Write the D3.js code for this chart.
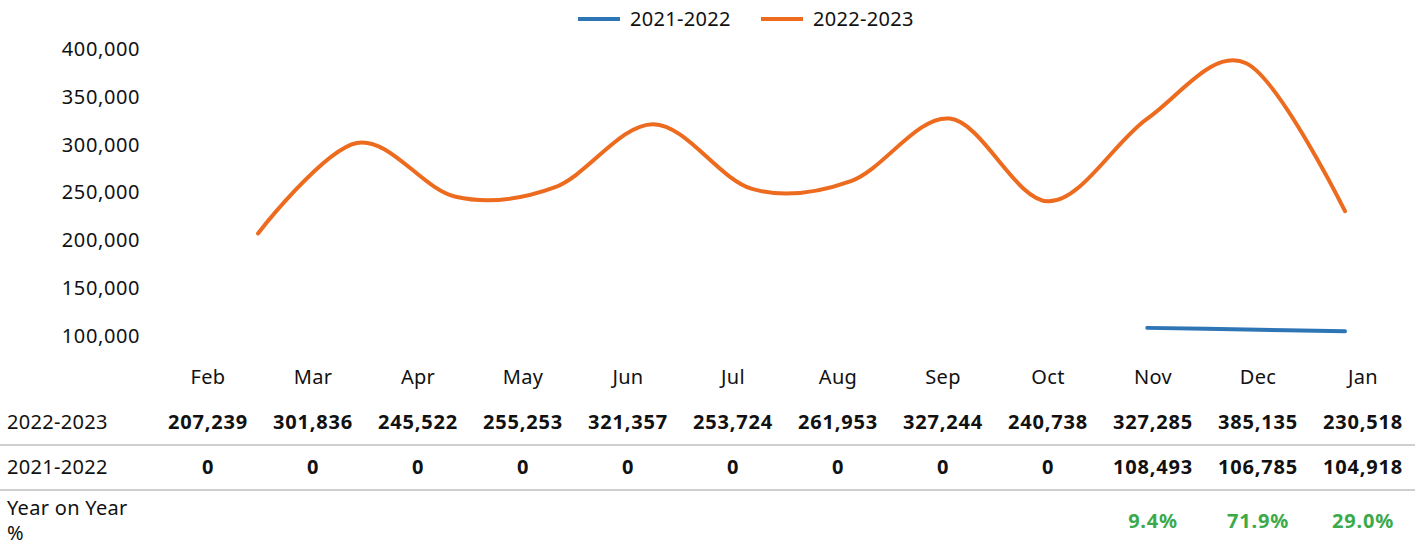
<!DOCTYPE html>
<html>
<head>
<meta charset="utf-8">
<script src="https://cdn.jsdelivr.net/npm/d3@7"></script>
<style>
  body { margin: 0; background: #fff; }
  svg text { font-family: "Noto Sans", "DejaVu Sans", sans-serif; fill: #111; }
  .axis path, .axis line { display: none; }
  .axis text { font-size: 20px; letter-spacing: 0.6px; }
  .val { font-weight: bold; font-size: 20px; letter-spacing: 0.8px; }
  .lbl { font-size: 20px; letter-spacing: 0.3px; }
  .sep { stroke: #cfcfcf; stroke-width: 2; }
</style>
</head>
<body>
<div id="chart"></div>
<script>
// months shown in the table and on the chart
var months = ["Feb","Mar","Apr","May","Jun","Jul","Aug","Sep","Oct","Nov","Dec","Jan"];
var series2223 = [207239, 301836, 245522, 255253, 321357, 253724, 261953, 327244, 240738, 327285, 385135, 230518];
var series2122 = [0, 0, 0, 0, 0, 0, 0, 0, 0, 108493, 106785, 104918];
var yoy = [null, null, null, null, null, null, null, null, null, 9.4, 71.9, 29.0];
var yTicks = [100000, 150000, 200000, 250000, 300000, 350000, 400000];

var w = 1422, h = 546;
var blue = "#2E75B6", orange = "#ED6B1F", green = "#3BAA4A";

var svg = d3.select("#chart").append("svg")
  .attr("width", w)
  .attr("height", h);

// line chart scales
var xLine = d3.scalePoint()
  .domain(months)
  .range([258, 1345]);

var yScale = d3.scaleLinear()
  .domain([100000, 400000])
  .range([336, 49]);

// table columns
var xCol = d3.scaleBand()
  .domain(months)
  .range([155.5, 1415.5]);

function colX(i) { return xCol(months[i]) + xCol.bandwidth() / 2; }

// y axis (labels only)
var yAxis = d3.axisLeft(yScale)
  .tickValues(yTicks)
  .tickSize(0)
  .tickPadding(0)
  .tickFormat(d3.format(","));

svg.append("g")
  .attr("class", "axis")
  .attr("transform", "translate(140,0)")
  .call(yAxis);

var line = d3.line()
  .defined(function(d) { return d.v > 0; })
  .x(function(d) { return xLine(d.m); })
  .y(function(d) { return yScale(d.v); })
  .curve(d3.curveCatmullRom.alpha(0));

function pairs(vals) {
  return months.map(function(m, i) { return { m: m, v: vals[i] }; });
}

svg.append("path")
  .datum(pairs(series2223))
  .attr("fill", "none")
  .attr("stroke", orange)
  .attr("stroke-width", 4)
  .attr("stroke-linecap", "round")
  .attr("d", line);

svg.append("path")
  .datum(pairs(series2122))
  .attr("fill", "none")
  .attr("stroke", blue)
  .attr("stroke-width", 4)
  .attr("stroke-linecap", "round")
  .attr("d", line);

// legend
var legend = [
  { name: "2021-2022", color: blue, x: 578 },
  { name: "2022-2023", color: orange, x: 761 }
];
var lg = svg.append("g").selectAll("g").data(legend).enter().append("g")
  .attr("transform", function(d) { return "translate(" + d.x + ",19)"; });
lg.append("line")
  .attr("x1", 0).attr("x2", 42)
  .attr("stroke", function(d) { return d.color; })
  .attr("stroke-width", 4);
lg.append("text")
  .attr("class", "lbl")
  .attr("x", 52)
  .attr("dy", "0.35em")
  .text(function(d) { return d.name; });

// category row
svg.append("g").selectAll("text").data(months).enter().append("text")
  .attr("class", "lbl")
  .attr("x", function(d, i) { return colX(i); })
  .attr("y", 377)
  .attr("dy", "0.35em")
  .attr("text-anchor", "middle")
  .text(function(d) { return d; });

// table rows
var fmt = d3.format(",");
var rows = [
  { name: "2022-2023", vals: series2223, y: 422 },
  { name: "2021-2022", vals: series2122, y: 467 }
];
rows.forEach(function(r) {
  svg.append("text")
    .attr("class", "lbl")
    .attr("x", 7)
    .attr("y", r.y)
    .attr("dy", "0.35em")
    .text(r.name);
  svg.append("g").selectAll("text").data(r.vals).enter().append("text")
    .attr("class", "val")
    .attr("x", function(d, i) { return colX(i); })
    .attr("y", r.y)
    .attr("dy", "0.35em")
    .attr("text-anchor", "middle")
    .text(function(d) { return fmt(d); });
});

svg.append("line").attr("class", "sep")
  .attr("x1", 0).attr("x2", 1415).attr("y1", 445).attr("y2", 445);
svg.append("line").attr("class", "sep")
  .attr("x1", 0).attr("x2", 1415).attr("y1", 490).attr("y2", 490);

svg.append("text")
  .attr("class", "lbl")
  .attr("x", 7).attr("y", 508).attr("dy", "0.35em")
  .text("Year on Year");
svg.append("text")
  .attr("class", "lbl")
  .attr("x", 7).attr("y", 533).attr("dy", "0.35em")
  .text("%");

var yoyData = yoy.map(function(v, i) { return { v: v, i: i }; })
  .filter(function(d) { return d.v != null; });

svg.append("g").selectAll("text").data(yoyData).enter().append("text")
  .attr("class", "val")
  .style("fill", green)
  .attr("x", function(d) { return colX(d.i); })
  .attr("y", 521)
  .attr("dy", "0.35em")
  .attr("text-anchor", "middle")
  .text(function(d) { return d.v.toFixed(1) + "%"; });
</script>
</body>
</html>
